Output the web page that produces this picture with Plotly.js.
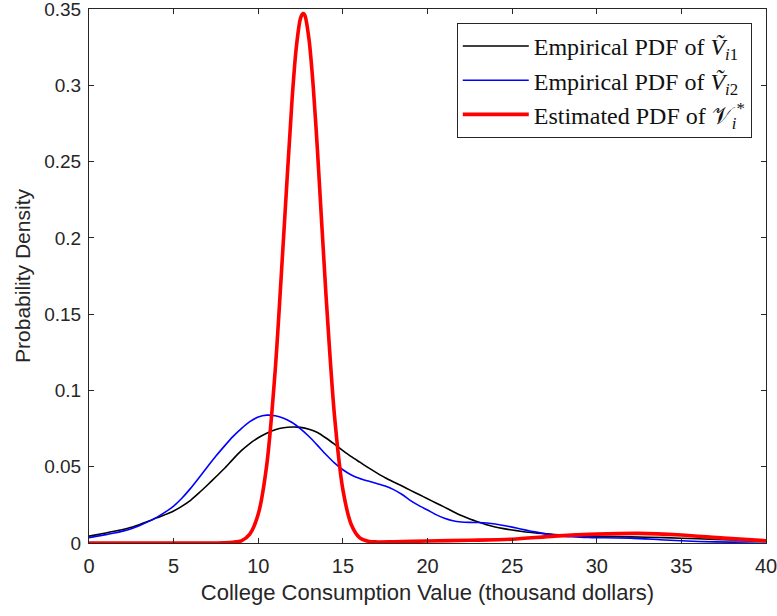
<!DOCTYPE html>
<html>
<head>
<meta charset="utf-8">
<script src="https://cdn.plot.ly/plotly-3.0.1.min.js"></script>
<style>html,body{margin:0;padding:0;background:#fff;}#chart{width:777px;height:616px;}</style>
</head>
<body>
<div id="chart"></div>
<script>
// Shared x grid for empirical curves (thousand dollars)
const xEmp = [0,0.5,1,1.5,2,2.5,3,3.5,4,4.5,5,5.5,6,6.5,7,7.5,8,8.5,9,9.5,10,10.5,11,11.5,12,12.5,13,13.5,14,14.5,15,15.5,16,16.5,17,17.5,18,18.5,19,19.5,20,20.5,21,21.5,22,22.5,23,23.5,24,24.5,25,25.5,26,26.5,27,27.5,28,28.5,29,29.5,30,32,34,36,38,40];
// Empirical PDF of V~_i1 (black)
const yBlack = [0.0045,0.0055,0.0066,0.0077,0.0088,0.0103,0.0122,0.0142,0.0165,0.0186,0.021,0.0242,0.028,0.0328,0.038,0.0434,0.0488,0.0548,0.0605,0.0652,0.069,0.072,0.0742,0.0755,0.0760,0.0758,0.0746,0.0724,0.0688,0.0648,0.0606,0.0566,0.053,0.0494,0.046,0.0428,0.040,0.0373,0.0345,0.0318,0.029,0.0262,0.0235,0.0207,0.018,0.0157,0.0138,0.012,0.0105,0.0094,0.0085,0.0077,0.007,0.0065,0.006,0.0056,0.0052,0.0049,0.0046,0.0044,0.0043,0.004,0.0035,0.0028,0.002,0.0012];
// Empirical PDF of V~_i2 (blue)
const yBlue = [0.0035,0.0045,0.0055,0.0066,0.0078,0.0094,0.0115,0.014,0.0168,0.0202,0.0242,0.0295,0.0358,0.0428,0.050,0.057,0.0635,0.0697,0.075,0.0795,0.0826,0.0838,0.0834,0.0818,0.079,0.0748,0.0698,0.064,0.058,0.0525,0.048,0.0446,0.0423,0.0406,0.039,0.0373,0.035,0.0318,0.0278,0.0245,0.0216,0.0186,0.0162,0.0146,0.0138,0.0135,0.0134,0.0131,0.0125,0.0115,0.0104,0.0092,0.008,0.007,0.006,0.0052,0.0045,0.0041,0.0038,0.0036,0.0035,0.0032,0.002,0.001,0.0006,0.0008];
// Estimated PDF of V*_i (red)
const xRed = [0,2,4,6,8,8.5,9,9.5,10,10.5,11,11.5,12,12.25,12.5,12.65,12.75,13,13.25,13.5,14,14.5,15,15.5,16,16.5,17,18,20,22.5,25,27.5,30,32.5,35,37.5,40];
const yRed = [0,0,0,0,0.0002,0.0005,0.0014,0.0058,0.019,0.051,0.113,0.201,0.291,0.325,0.344,0.347,0.346,0.330,0.299,0.257,0.163,0.084,0.035,0.012,0.0034,0.0012,0.0007,0.0008,0.0013,0.0018,0.0025,0.0045,0.0058,0.0063,0.0052,0.0032,0.0015];

const names = [
  "Empirical PDF of <i>Ṽ</i><sub><i>i</i>1</sub>",
  "Empirical PDF of <i>Ṽ</i><sub><i>i</i>2</sub>",
  "Estimated PDF of 𝒱<sub><i>i</i></sub><sup>*</sup>"
];

const traces = [
  {x: xEmp, y: yBlack, mode: 'lines', name: names[0], line: {color: '#000000', width: 1.6, shape: 'spline', smoothing: 0.6}},
  {x: xEmp, y: yBlue, mode: 'lines', name: names[1], line: {color: '#0000ff', width: 1.6, shape: 'spline', smoothing: 0.6}},
  {x: xRed, y: yRed, mode: 'lines', name: names[2], line: {color: '#ff0000', width: 3.6, shape: 'spline', smoothing: 0.8}}
];

const sans = 'Liberation Sans, Arial, sans-serif';
const axisCommon = {
  showline: true, mirror: 'ticks', linecolor: '#262626', linewidth: 1,
  ticks: 'inside', ticklen: 5, tickcolor: '#262626', tickwidth: 1,
  showgrid: false, zeroline: false, ticklabeloverflow: 'allow',
  tickfont: {family: sans, size: 20, color: '#262626'}
};

const layout = {
  width: 777, height: 616,
  margin: {l: 89, r: 11, t: 9, b: 73},
  paper_bgcolor: '#ffffff', plot_bgcolor: '#ffffff',
  showlegend: true,
  xaxis: Object.assign({}, axisCommon, {
    range: [0, 40], tickvals: [0,5,10,15,20,25,30,35,40],
    ticklabelstandoff: 5,
    title: {text: 'College Consumption Value (thousand dollars)', standoff: 8,
            font: {family: sans, size: 22, color: '#262626'}}
  }),
  yaxis: Object.assign({}, axisCommon, {
    range: [0, 0.35], tickvals: [0,0.05,0.1,0.15,0.2,0.25,0.3,0.35],
    ticktext: ['0','0.05','0.1','0.15','0.2','0.25','0.3','0.35'],
    ticklabelstandoff: 3,
    tickfont: {family: sans, size: 19, color: '#262626'},
    title: {text: 'Probability Density', standoff: 7,
            font: {family: sans, size: 21, color: '#262626'}}
  }),
  legend: {
    x: 0.979, y: 0.974, xanchor: 'right', yanchor: 'top',
    bgcolor: '#ffffff', bordercolor: '#262626', borderwidth: 1,
    font: {family: 'Liberation Serif, Times New Roman, serif', size: 24, color: '#111'},
    itemwidth: 66, tracegroupgap: 0
  }
};

Plotly.newPlot('chart', traces, layout, {displayModeBar: false, staticPlot: true});
</script>
</body>
</html>
